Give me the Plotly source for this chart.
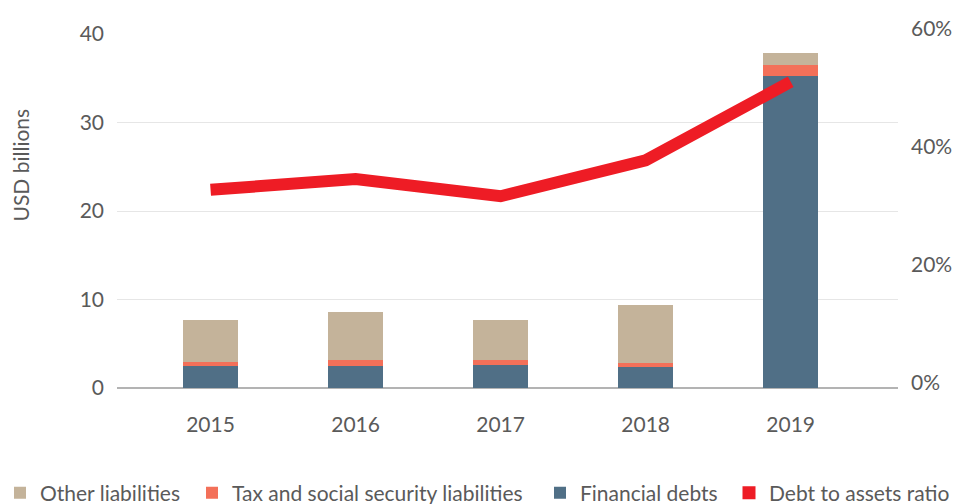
import plotly.graph_objects as go

# Balance-sheet liabilities (USD billions) and debt-to-assets ratio, 2015-2019
years = ["2015", "2016", "2017", "2018", "2019"]
financial_debts = [2.5, 2.5, 2.6, 2.35, 35.25]
tax_social_security = [0.45, 0.65, 0.55, 0.45, 1.25]
other_liabilities = [4.75, 5.45, 4.5, 6.6, 1.35]
debt_to_assets = [0.336, 0.354, 0.325, 0.386, 0.519]

left_ticks = [0, 10, 20, 30, 40]
right_ticks = [0, 0.2, 0.4, 0.6]
right_tick_text = ["0%", "20%", "40%", "60%"]

TAN = "#C4B39A"
ORANGE = "#F37059"
SLATE = "#506F86"
RED = "#EE1C25"
TEXT = "#5A5A5A"
FONT = "Lato"
FS = 21

W, H = 954, 504
L, R, T, B = 117, 56, 34, 116
PW, PH = W - L - R, H - T - B

fig = go.Figure()

fig.add_trace(go.Bar(x=years, y=financial_debts, name="Financial debts",
                     marker=dict(color=SLATE, line=dict(width=0)),
                     legend="legend3"))
fig.add_trace(go.Bar(x=years, y=tax_social_security,
                     name="Tax and social security liabilities",
                     marker=dict(color=ORANGE, line=dict(width=0)),
                     legend="legend2"))
fig.add_trace(go.Bar(x=years, y=other_liabilities, name="Other liabilities",
                     marker=dict(color=TAN, line=dict(width=0)),
                     legend="legend"))

fig.add_trace(go.Scatter(x=years, y=debt_to_assets, yaxis="y2",
                         mode="lines", name="Debt to assets ratio",
                         line=dict(color=RED, width=12, shape="linear"),
                         showlegend=False))
# square legend key for the ratio line
fig.add_trace(go.Scatter(x=[None], y=[None], yaxis="y2", mode="markers",
                         name="Debt to assets ratio",
                         marker=dict(color=RED, symbol="square", size=13,
                                     line=dict(width=0)),
                         legend="legend4"))


def legend_at(px_left):
    return dict(
        orientation="h",
        xref="container", x=px_left / W, xanchor="left",
        yref="container", y=1 - 493 / H, yanchor="middle",
        font=dict(family=FONT, size=FS, color=TEXT),
        bgcolor="rgba(0,0,0,0)",
        borderwidth=0,
    )


fig.update_layout(
    width=W, height=H,
    barmode="stack",
    bargap=0.62,
    paper_bgcolor="white",
    plot_bgcolor="white",
    font=dict(family=FONT, color=TEXT, size=FS),
    margin=dict(l=L, r=R, t=T, b=B, pad=0, autoexpand=False),
    xaxis=dict(
        type="category",
        range=[-0.645, 4.74],
        automargin=False,
        showgrid=False,
        showline=False,
        zeroline=False,
        ticks="",
        ticklabelstandoff=22,
        tickfont=dict(size=FS, color=TEXT),
    ),
    yaxis=dict(
        range=[0, 40],
        tickvals=left_ticks,
        automargin=False,
        showgrid=True,
        gridcolor="#E6E6E6",
        gridwidth=1,
        zeroline=True,
        zerolinecolor="#B3B3B3",
        zerolinewidth=2,
        showline=False,
        ticks="",
        ticklabelstandoff=12,
        tickfont=dict(size=FS, color=TEXT),
    ),
    yaxis2=dict(
        overlaying="y",
        side="right",
        range=[0, 0.6],
        tickvals=right_ticks,
        ticktext=right_tick_text,
        automargin=False,
        showgrid=False,
        zeroline=False,
        showline=False,
        ticks="",
        ticklabelstandoff=12,
        ticklabelshift=-5,
        tickfont=dict(size=FS, color=TEXT),
    ),
    legend=legend_at(-2),
    legend2=legend_at(192),
    legend3=legend_at(540),
    legend4=legend_at(729),
    showlegend=True,
    annotations=[dict(
        text="USD billions",
        textangle=-90,
        xref="paper", yref="paper",
        x=(19.5 - L) / PW, y=(H - B - 165) / PH,
        xanchor="center", yanchor="middle",
        showarrow=False,
        font=dict(family=FONT, size=FS, color=TEXT),
    )],
)

fig.write_html("out.html")
